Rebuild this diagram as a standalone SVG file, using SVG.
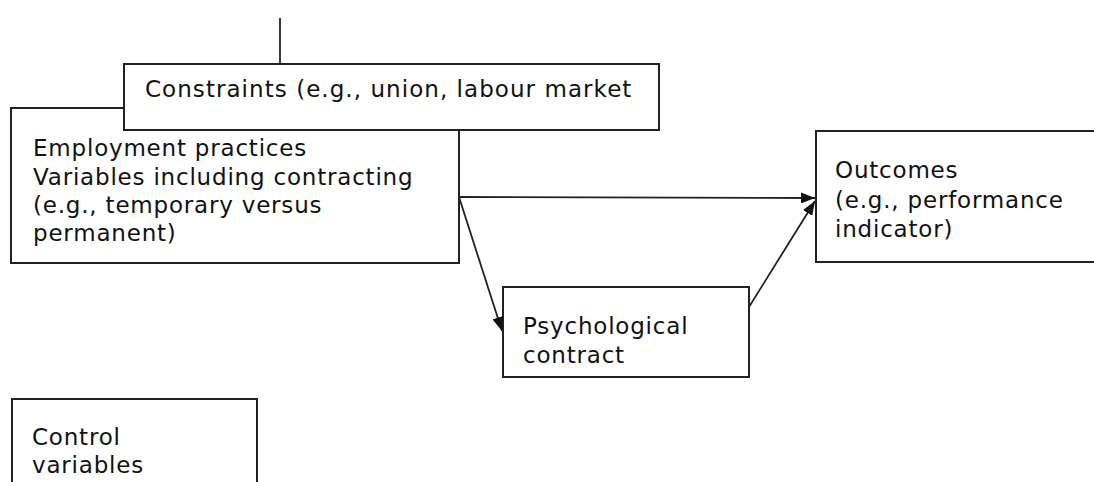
<svg xmlns="http://www.w3.org/2000/svg" width="1094" height="482" viewBox="0 0 1094 482">
<style>
.box{fill:#fff;stroke:#222;stroke-width:2}
.lbl{font-family:"DejaVu Sans",Verdana,sans-serif;font-size:23px;letter-spacing:0.8px;fill:#111}
.wide{letter-spacing:1.05px}
.conn{stroke:#222;stroke-width:1.8;fill:none}
</style>
<defs>
<marker id="arr" viewBox="0 0 14 11" refX="14" refY="5.5" markerWidth="14" markerHeight="11" markerUnits="userSpaceOnUse" orient="auto">
<path d="M0,0 L14,5.5 L0,11 Z" fill="#111"/>
</marker>
</defs>
<g id="employment">
<rect class="box" x="11" y="108" width="448" height="155"/>
<text class="lbl" x="33" y="156">Employment practices</text>
<text class="lbl" x="33" y="185">Variables including contracting</text>
<text class="lbl" x="33" y="213">(e.g., temporary versus</text>
<text class="lbl" x="33" y="241">permanent)</text>
</g>
<g id="constraints">
<rect class="box" x="124" y="64" width="535" height="66"/>
<text class="lbl wide" x="145" y="97">Constraints (e.g., union, labour market</text>
</g>
<g id="outcomes">
<rect class="box" x="816" y="131" width="284" height="131"/>
<text class="lbl" x="835" y="178">Outcomes</text>
<text class="lbl" x="835" y="208">(e.g., performance</text>
<text class="lbl" x="835" y="237">indicator)</text>
</g>
<g id="psychological">
<rect class="box" x="503" y="287" width="246" height="90"/>
<text class="lbl" x="523" y="334">Psychological</text>
<text class="lbl" x="523" y="363">contract</text>
</g>
<g id="control">
<rect class="box" x="12" y="399" width="245" height="100"/>
<text class="lbl" x="32" y="445">Control</text>
<text class="lbl" x="32" y="473">variables</text>
</g>
<g id="connectors">
<line class="conn" x1="280" y1="18" x2="280" y2="64"/>
<line class="conn" x1="459" y1="197" x2="815" y2="198" marker-end="url(#arr)"/>
<line class="conn" x1="459" y1="197" x2="502" y2="331" marker-end="url(#arr)"/>
<line class="conn" x1="749" y1="307" x2="815" y2="201" marker-end="url(#arr)"/>
</g>
</svg>
